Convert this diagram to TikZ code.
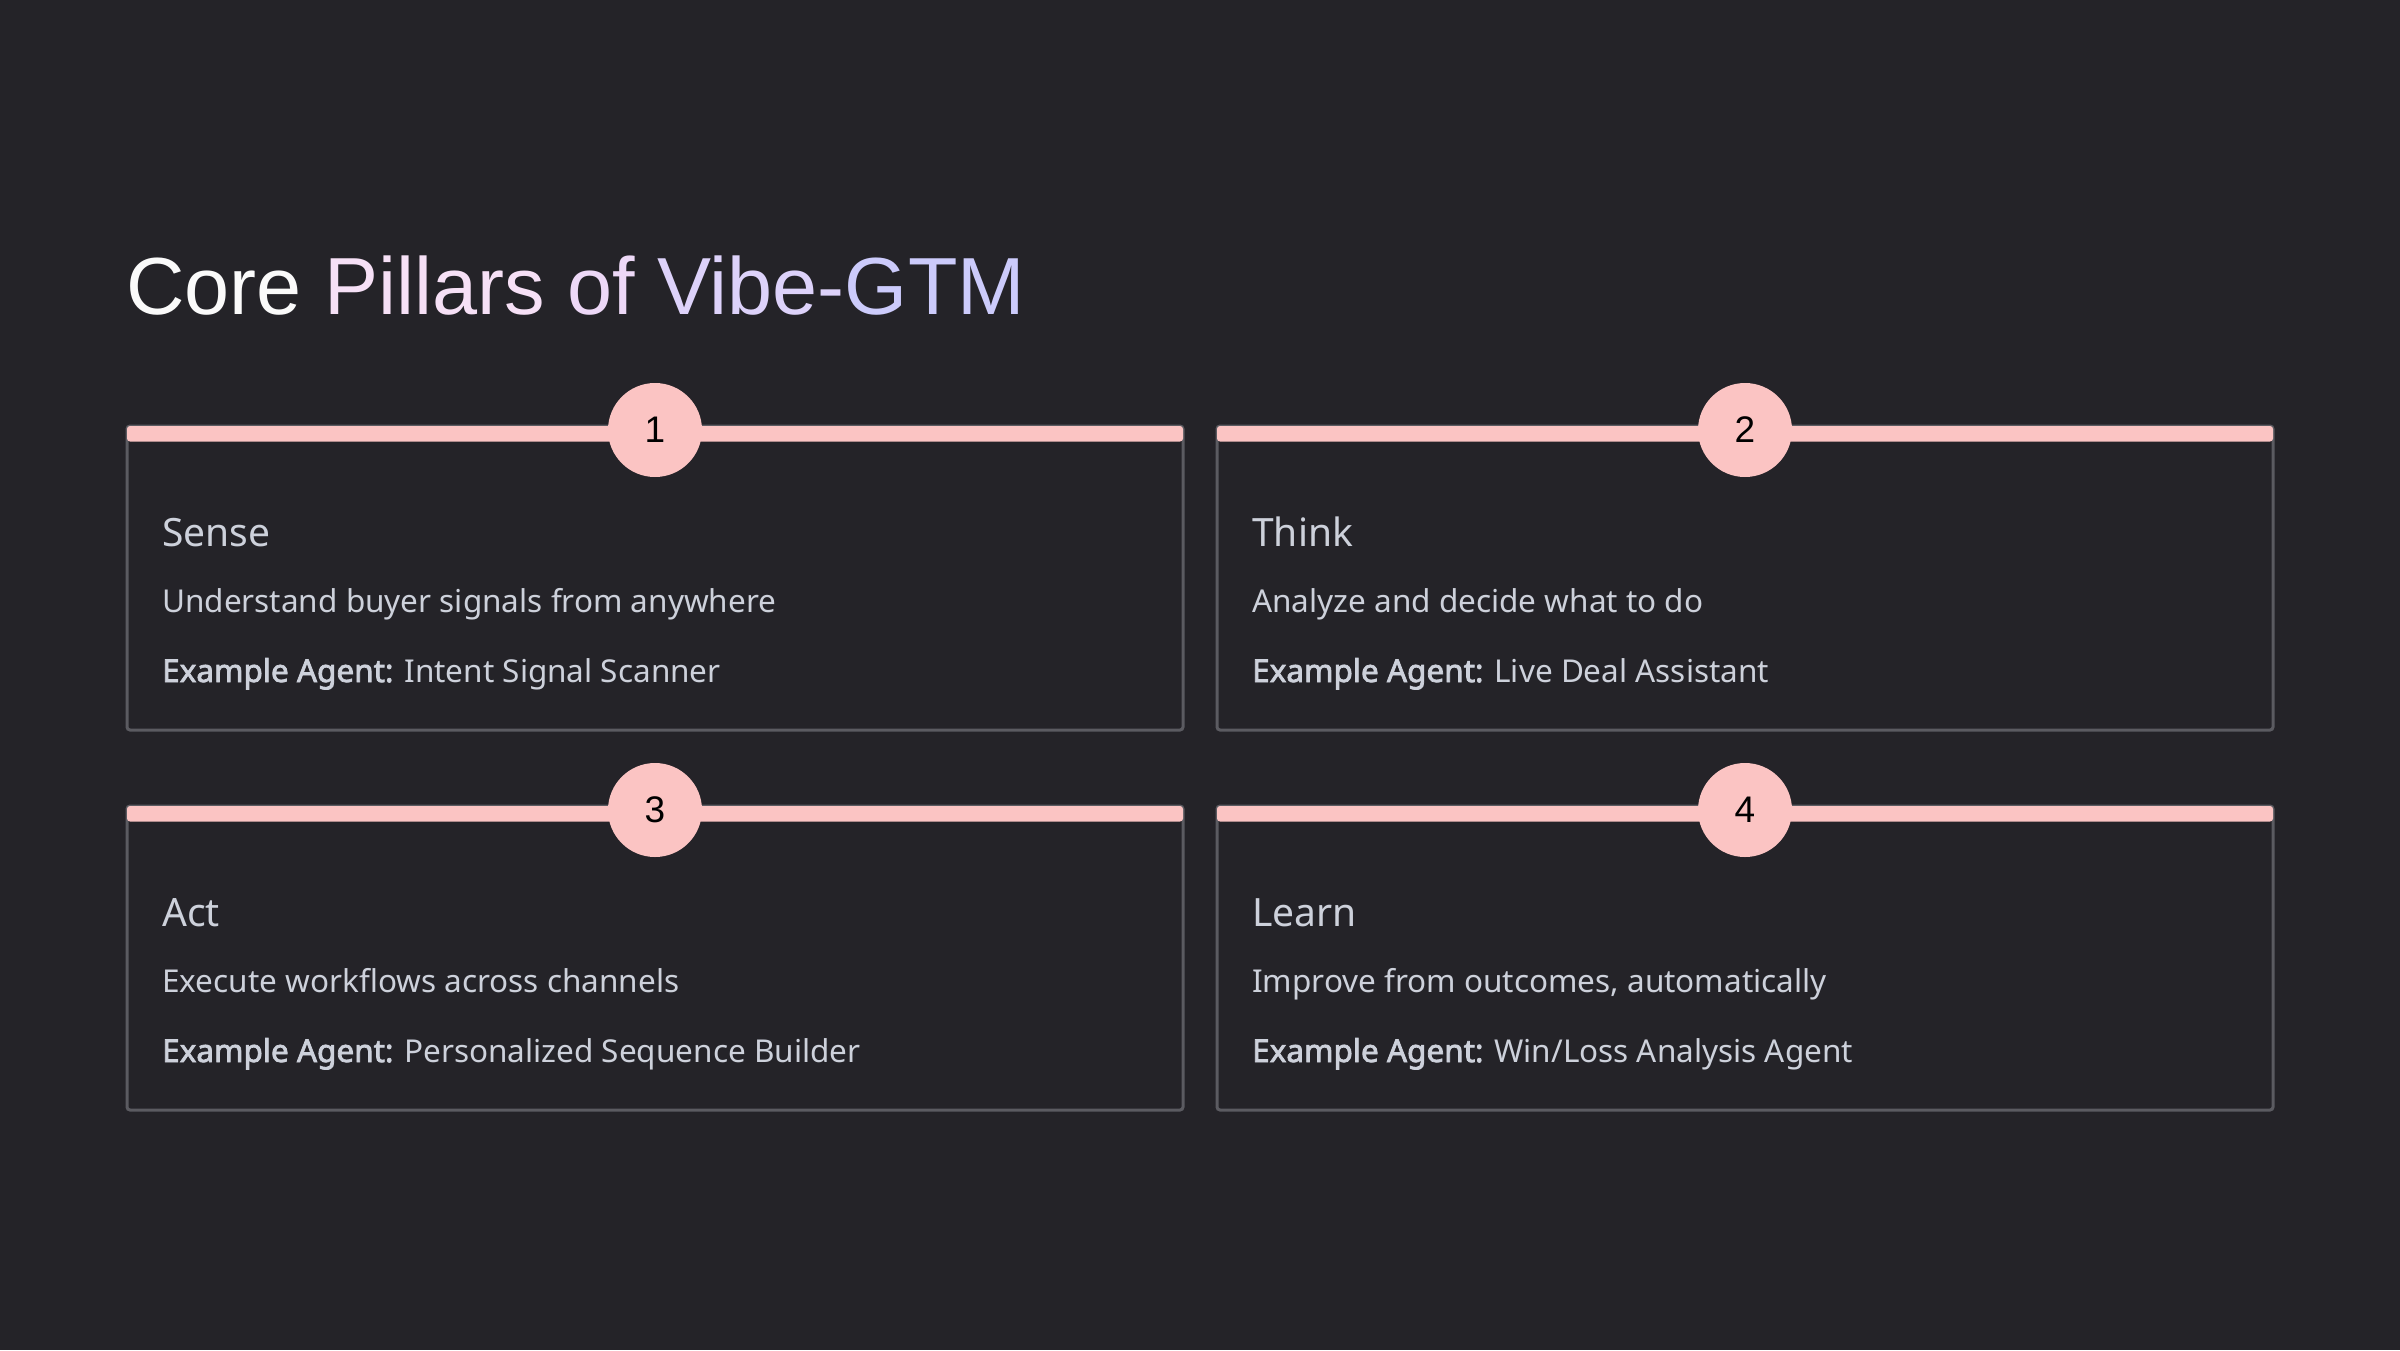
\documentclass[tikz,border=0pt]{standalone}
\usepackage{fontspec}
\setmainfont{Noto Sans}[AutoFakeBold=2.4]
\newfontfamily\titlefont{Liberation Sans}
\definecolor{bg}{HTML}{242328}
\definecolor{cardline}{HTML}{5B5B61}
\definecolor{pinkbar}{HTML}{FBC4C3}
\definecolor{txt}{HTML}{CDD1DB}
\definecolor{tA}{HTML}{FAFAFA}
\definecolor{tB}{HTML}{F6E0F6}
\definecolor{tC}{HTML}{EDD8F7}
\definecolor{tD}{HTML}{DDD2FA}
\definecolor{tE}{HTML}{CCCBFB}
\tikzset{
  cardbox/.style={draw=cardline, line width=3pt, rounded corners=3pt},
  topbar/.style={fill=pinkbar, rounded corners=3pt},
  numdot/.style={circle, fill=pinkbar, minimum size=94pt, inner sep=0pt, text=black, font=\titlefont\fontsize{37}{42}\selectfont},
  headtxt/.style={anchor=base west, inner sep=0pt, text=txt, font=\fontsize{39}{46}\selectfont},
  desctxt/.style={anchor=base west, inner sep=0pt, text=txt, font=\fontsize{31.5}{38}\selectfont},
  titletxt/.style={anchor=base west, inner sep=0pt, font=\titlefont\fontsize{81}{90}\selectfont}
}
\newcommand{\pillarcard}[7]{%
  % #1 id, #2 x, #3 y, #4 number, #5 title, #6 desc, #7 agent
  \draw[cardbox] (#2,#3) rectangle ++(1056,304);
  \fill[topbar] (#2,#3) rectangle ++(1056,15.5);
  \node[numdot] (num#1) at (#2+528,#3+4) {#4};
  \node[headtxt] (head#1) at (#2+35,#3+120) {#5};
  \node[desctxt] (desc#1) at (#2+35,#3+186) {#6};
  \node[desctxt] (agent#1) at (#2+35,#3+256) {\textbf{Example Agent:} #7};
}
\begin{document}
\begin{tikzpicture}[x=1pt,y=-1pt]
\fill[bg] (0,0) rectangle (2400,1350);
\useasboundingbox (0,0) rectangle (2400,1350);
\node[titletxt] (title) at (126,314) {\textcolor{tA}{Core} \textcolor{tB}{Pillars} \textcolor{tC}{of} \textcolor{tD}{Vibe-}\textcolor{tE}{GTM}};
\pillarcard{1}{127}{426}{1}{Sense}{Understand buyer signals from anywhere}{Intent Signal Scanner}
\pillarcard{2}{1217}{426}{2}{Think}{Analyze and decide what to do}{Live Deal Assistant}
\pillarcard{3}{127}{806}{3}{Act}{Execute workflows across channels}{Personalized Sequence Builder}
\pillarcard{4}{1217}{806}{4}{Learn}{Improve from outcomes, automatically}{Win/Loss Analysis Agent}
\end{tikzpicture}
\end{document}
